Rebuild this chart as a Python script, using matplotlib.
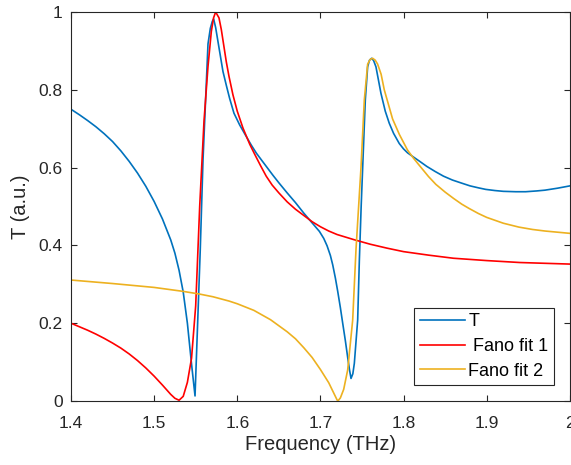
import matplotlib
matplotlib.use("Agg")
import matplotlib.pyplot as plt

# ---- data ----
t_freq = [1.40, 1.41, 1.42, 1.43, 1.44, 1.45, 1.46, 1.47, 1.48, 1.49, 1.50, 1.51,
          1.52, 1.525, 1.53, 1.535, 1.54, 1.545, 1.5492, 1.552, 1.5555, 1.5588,
          1.5648, 1.5676, 1.570, 1.5716, 1.574, 1.5768, 1.5828, 1.587, 1.5908, 1.596,
          1.6028, 1.61, 1.6168, 1.623, 1.63, 1.643, 1.65, 1.66, 1.67, 1.68, 1.69,
          1.6988, 1.704, 1.708, 1.712, 1.7148, 1.718, 1.7208, 1.724, 1.7268, 1.73,
          1.7328, 1.735, 1.7368, 1.739, 1.7408, 1.7448, 1.7468, 1.749, 1.751, 1.754,
          1.7568, 1.759, 1.7616, 1.764, 1.7668, 1.7728, 1.778, 1.7828, 1.788, 1.7948,
          1.80, 1.8048, 1.812, 1.8188, 1.828, 1.838, 1.848, 1.8588, 1.87, 1.88, 1.89,
          1.8988, 1.91, 1.92, 1.935, 1.9468, 1.96, 1.97, 1.985, 2.0]
t_vals = [0.750, 0.736, 0.721, 0.705, 0.687, 0.667, 0.643, 0.616, 0.586, 0.552, 0.513, 0.468,
          0.414, 0.380, 0.336, 0.280, 0.200, 0.095, 0.013, 0.180, 0.390, 0.620,
          0.918, 0.958, 0.976, 0.982, 0.960, 0.924, 0.847, 0.810, 0.778, 0.740,
          0.710, 0.683, 0.658, 0.637, 0.617, 0.580, 0.561, 0.535, 0.510, 0.483, 0.458,
          0.436, 0.418, 0.399, 0.374, 0.350, 0.316, 0.282, 0.240, 0.200, 0.155,
          0.112, 0.080, 0.058, 0.070, 0.097, 0.208, 0.360, 0.500, 0.610, 0.774,
          0.859, 0.876, 0.881, 0.875, 0.859, 0.791, 0.745, 0.714, 0.688, 0.662,
          0.648, 0.638, 0.627, 0.617, 0.603, 0.590, 0.578, 0.568, 0.560, 0.553, 0.548,
          0.544, 0.541, 0.539, 0.538, 0.538, 0.540, 0.542, 0.547, 0.553]

f1_freq = [1.40, 1.41, 1.42, 1.43, 1.44, 1.45, 1.46, 1.47, 1.48, 1.49, 1.50, 1.51,
           1.52, 1.525, 1.53, 1.535, 1.54, 1.545, 1.55, 1.5548, 1.56, 1.5648, 1.5688,
           1.5715, 1.574, 1.578, 1.5808, 1.5868, 1.59, 1.5948, 1.60, 1.6068, 1.615,
           1.6208, 1.628, 1.6348, 1.642, 1.65, 1.66, 1.67, 1.68, 1.69, 1.70, 1.71,
           1.72, 1.74, 1.76, 1.78, 1.80, 1.83, 1.86, 1.90, 1.94, 1.97, 2.0]
f1_vals = [0.200, 0.191, 0.182, 0.172, 0.161, 0.149, 0.136, 0.121, 0.104, 0.085, 0.064, 0.041,
           0.017, 0.007, 0.002, 0.012, 0.048, 0.110, 0.245, 0.500, 0.720, 0.860, 0.950,
           0.985, 1.000, 0.985, 0.955, 0.872, 0.835, 0.787, 0.745, 0.702, 0.660,
           0.635, 0.605, 0.578, 0.555, 0.535, 0.512, 0.493, 0.477, 0.461, 0.448, 0.437,
           0.428, 0.415, 0.403, 0.393, 0.384, 0.375, 0.367, 0.361, 0.356, 0.354, 0.352]

f2_freq = [1.40, 1.45, 1.50, 1.5344, 1.5544, 1.5708, 1.59, 1.60, 1.62, 1.64, 1.66,
           1.67, 1.68, 1.69, 1.70, 1.71, 1.715, 1.72, 1.721, 1.724, 1.728, 1.7328,
           1.7388, 1.7428, 1.7488, 1.7528, 1.7568, 1.7598, 1.7628, 1.766, 1.7688, 1.773,
           1.7768, 1.7868, 1.795, 1.8048, 1.812, 1.82, 1.83, 1.8388, 1.85, 1.86, 1.87,
           1.8788, 1.89, 1.90, 1.92, 1.9388, 1.955, 1.97, 1.985, 2.0]
f2_vals = [0.311, 0.302, 0.292, 0.282, 0.275, 0.268, 0.257, 0.250, 0.233, 0.209, 0.178,
           0.160, 0.137, 0.112, 0.081, 0.047, 0.025, 0.003, 0.000, 0.008, 0.030, 0.080,
           0.208, 0.390, 0.600, 0.774, 0.866, 0.878, 0.881, 0.876, 0.866, 0.840,
           0.800, 0.725, 0.685, 0.645, 0.624, 0.603, 0.577, 0.557, 0.537, 0.521, 0.506,
           0.495, 0.482, 0.472, 0.457, 0.447, 0.441, 0.437, 0.434, 0.431]

x_ticks = [1.4, 1.5, 1.6, 1.7, 1.8, 1.9, 2.0]
x_tick_labels = ["1.4", "1.5", "1.6", "1.7", "1.8", "1.9", "2"]
y_ticks = [0, 0.2, 0.4, 0.6, 0.8, 1.0]
y_tick_labels = ["0", "0.2", "0.4", "0.6", "0.8", "1"]

plt.rcParams['font.family'] = ['Liberation Sans', 'DejaVu Sans']

fig = plt.figure(figsize=(5.71, 4.65), dpi=100)
ax = fig.add_axes([0.1243, 0.1376, 0.8737, 0.8366])

ax.plot(t_freq, t_vals, color='#0072BD', lw=1.2, label='T')
ax.plot(f1_freq, f1_vals, color='#FF0000', lw=1.2, label=' Fano fit 1')
ax.plot(f2_freq, f2_vals, color='#EDB120', lw=1.2, label='Fano fit 2')

ax.set_xlim(1.4, 2.0)
ax.set_ylim(0, 1)
ax.set_xticks(x_ticks)
ax.set_xticklabels(x_tick_labels)
ax.set_yticks(y_ticks)
ax.set_yticklabels(y_tick_labels)

axc = '#262626'
for s in ax.spines.values():
    s.set_color(axc)
    s.set_linewidth(0.8)
ax.tick_params(direction='in', top=True, right=True, length=4, width=0.8,
               colors=axc, labelsize=12.5)
ax.tick_params(axis='x', pad=11)
ax.tick_params(axis='y', pad=6)
ax.set_xlabel('Frequency (THz)', fontsize=14.5, color=axc, labelpad=3)
ax.set_ylabel('T (a.u.)', fontsize=14.5, color=axc, labelpad=6)

leg = ax.legend(loc='lower right', bbox_to_anchor=(0.968, 0.041), fontsize=13,
                frameon=True, fancybox=False, edgecolor=axc, framealpha=1,
                handlelength=2.5, handletextpad=0.2, borderpad=0.3,
                labelspacing=0.42, borderaxespad=0)
leg.get_frame().set_linewidth(0.8)

fig.savefig('out.png', dpi=100)
